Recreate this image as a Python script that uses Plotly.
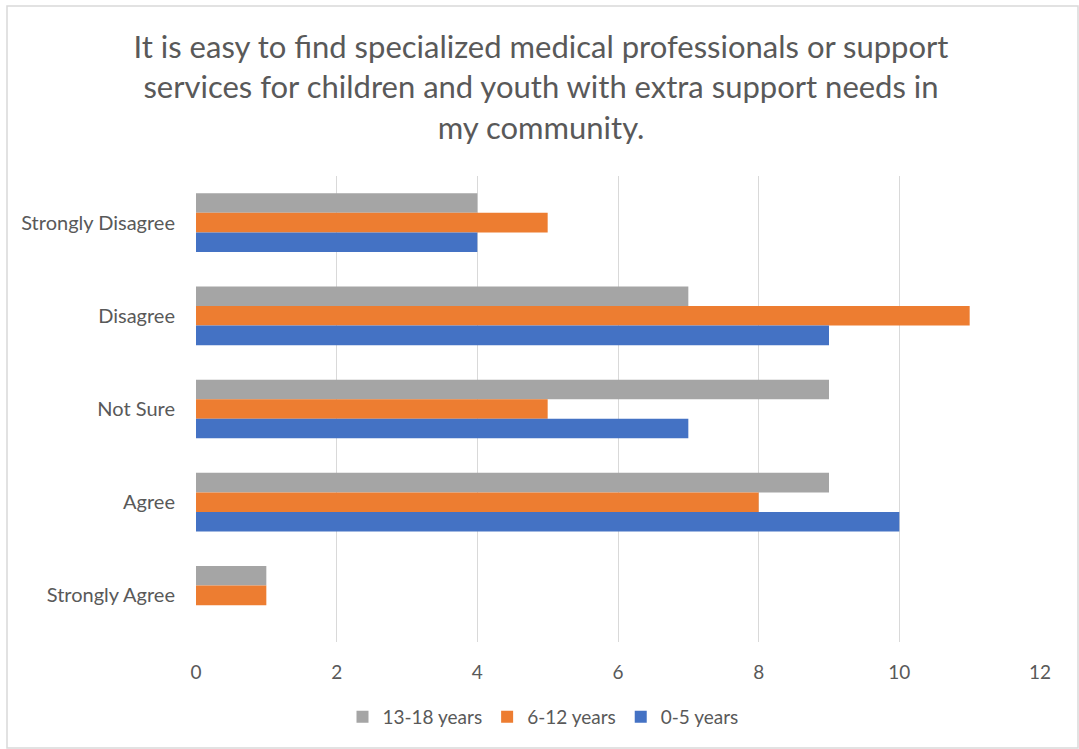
import plotly.graph_objects as go

# Survey responses by age group
categories = ["Strongly Disagree", "Disagree", "Not Sure", "Agree", "Strongly Agree"]
age_13_18 = [4, 7, 9, 9, 1]
age_6_12 = [5, 11, 5, 8, 1]
age_0_5 = [4, 9, 7, 10, 0]
x_ticks = [0, 2, 4, 6, 8, 10, 12]

series = [
    ("13-18 years", age_13_18, "#A5A5A5"),
    ("6-12 years", age_6_12, "#ED7D31"),
    ("0-5 years", age_0_5, "#4472C4"),
]

FONT = "Lato, Carlito, Calibri, sans-serif"
TEXT = "#595959"

fig = go.Figure()
for name, vals, color in series:
    fig.add_trace(go.Bar(
        y=categories, x=vals, name=name, orientation="h",
        marker=dict(color=color, line=dict(width=0)),
    ))

W, H = 1079, 749
L, R, T, B = 196, 39, 176, 107
pw, ph = W - L - R, H - T - B

def px_x(p):
    return (p - L) / pw

def px_y(p):
    return (H - B - p) / ph

fig.update_layout(
    width=W, height=H,
    margin=dict(l=L, r=R, t=T, b=B),
    paper_bgcolor="white", plot_bgcolor="white",
    barmode="group", bargap=0.37, bargroupgap=0,
    font=dict(family=FONT, color=TEXT, size=19),
    title=dict(
        text="It is easy to find specialized medical professionals or support<br>"
             "services for children and youth with extra support needs in<br>"
             "my community.",
        x=541 / W, xanchor="center", y=1 - 58 / H, yanchor="middle",
        font=dict(family=FONT, size=31, color=TEXT),
    ),
    xaxis=dict(
        range=[0, 12], tickvals=x_ticks, showgrid=True, gridcolor="#D9D9D9",
        gridwidth=1.3, zeroline=False, showline=False, ticks="",
        tickfont=dict(size=19, color=TEXT), ticklabelstandoff=17,
    ),
    yaxis=dict(
        autorange="reversed", showgrid=False, showline=False, ticks="",
        tickfont=dict(size=20, color=TEXT), ticklabelstandoff=20,
    ),
    legend=dict(
        orientation="h", x=px_x(543), xanchor="center", y=px_y(717), yanchor="middle",
        font=dict(size=19, color=TEXT), itemwidth=30, traceorder="normal",
    ),
    shapes=[dict(
        type="rect", xref="paper", yref="paper",
        x0=px_x(7), x1=px_x(1078), y0=px_y(748), y1=px_y(6),
        line=dict(color="#D9D9D9", width=1.5), fillcolor="rgba(0,0,0,0)", layer="below",
    )],
)

fig.write_html("out.html")
